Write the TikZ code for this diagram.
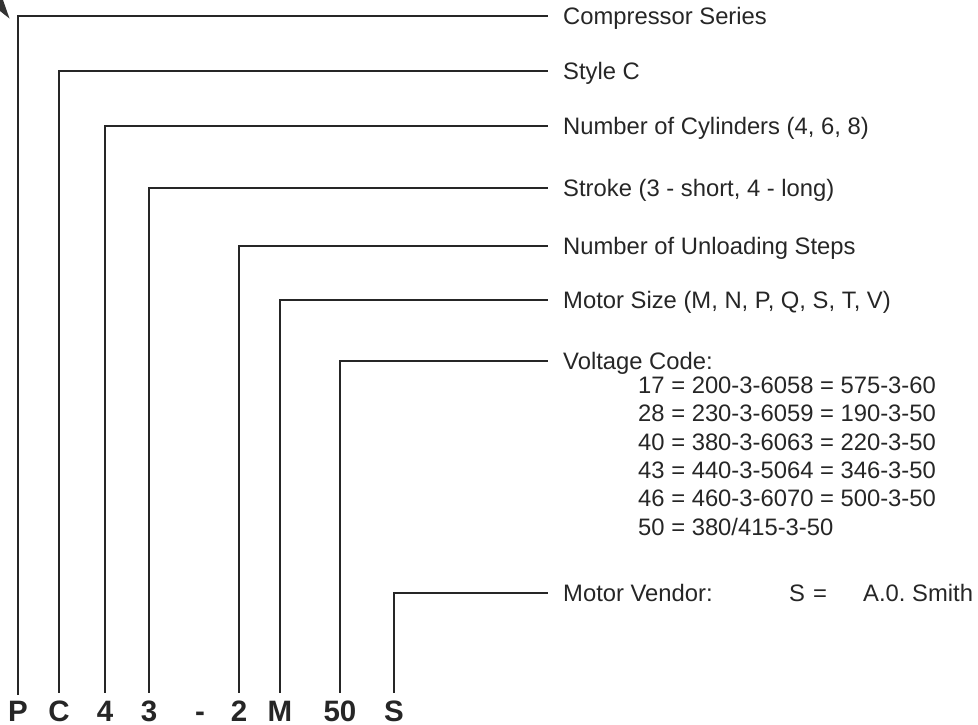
\documentclass[tikz,border=0pt]{standalone}
\usepackage{fontspec}
\setmainfont{Liberation Sans}
\begin{document}
\begin{tikzpicture}[x=1pt,y=-1pt,
  lbl/.style={anchor=west,inner xsep=15pt,inner ysep=0pt,text height=17pt,text depth=0pt,
    font=\fontsize{23.8}{28}\selectfont,text=black!85},
  vlist/.style={anchor=west,inner sep=0pt,text height=17pt,text depth=0pt,
    font=\fontsize{23.8}{28}\selectfont,text=black!85},
  letter/.style={anchor=base,inner sep=0pt,text height=28.1pt,text depth=0pt,
    font=\fontsize{29.5}{32}\selectfont\bfseries,text=black!85},
  conn/.style={draw=black!85,line width=2pt}]
\useasboundingbox (0,0) rectangle (978,724);
% corner mark
\fill[black!80] (0,0) -- (3,0) -- (9.5,18.5) -- (0,11) -- cycle;
% code letters
\node[letter] (lP) at (18,721) {P};
\node[letter] (lC) at (59,721) {C};
\node[letter] (l4) at (105,721) {4};
\node[letter] (l3) at (149,721) {3};
\node[letter] (ldash) at (200,721) {-};
\node[letter] (l2) at (239,721) {2};
\node[letter] (lM) at (280,721) {M};
\node[letter] (l50) at (340,721) {50};
\node[letter] (lS) at (394,721) {S};
% labels
\node[lbl] (tP) at (548,16) {Compressor Series};
\node[lbl] (tC) at (548,71) {Style C};
\node[lbl] (t4) at (548,126) {Number of Cylinders (4, 6, 8)};
\node[lbl] (t3) at (548,188) {Stroke (3 - short, 4 - long)};
\node[lbl] (t2) at (548,246) {Number of Unloading Steps};
\node[lbl] (tM) at (548,300) {Motor Size (M, N, P, Q, S, T, V)};
\node[lbl] (t50) at (548,361) {Voltage Code:};
\node[lbl] (tS) at (548,593) {\makebox[226pt][l]{Motor Vendor:}\makebox[24pt][l]{S}\makebox[50pt][l]{=}A.0.\ Smith};
% voltage list
\node[vlist] (v1) at (638,385) {17 = 200-3-6058 = 575-3-60};
\node[vlist] (v2) at (638,413) {28 = 230-3-6059 = 190-3-50};
\node[vlist] (v3) at (638,442) {40 = 380-3-6063 = 220-3-50};
\node[vlist] (v4) at (638,470) {43 = 440-3-5064 = 346-3-50};
\node[vlist] (v5) at (638,498) {46 = 460-3-6070 = 500-3-50};
\node[vlist] (v6) at (638,527) {50 = 380/415-3-50};
% connectors
\draw[conn] ([yshift=-2pt]lP.north) |- (tP.west);
\draw[conn] (lC.north) |- (tC.west);
\draw[conn] (l4.north) |- (t4.west);
\draw[conn] (l3.north) |- (t3.west);
\draw[conn] (l2.north) |- (t2.west);
\draw[conn] (lM.north) |- (tM.west);
\draw[conn] (l50.north) |- (t50.west);
\draw[conn] (lS.north) |- (tS.west);
\end{tikzpicture}
\end{document}
